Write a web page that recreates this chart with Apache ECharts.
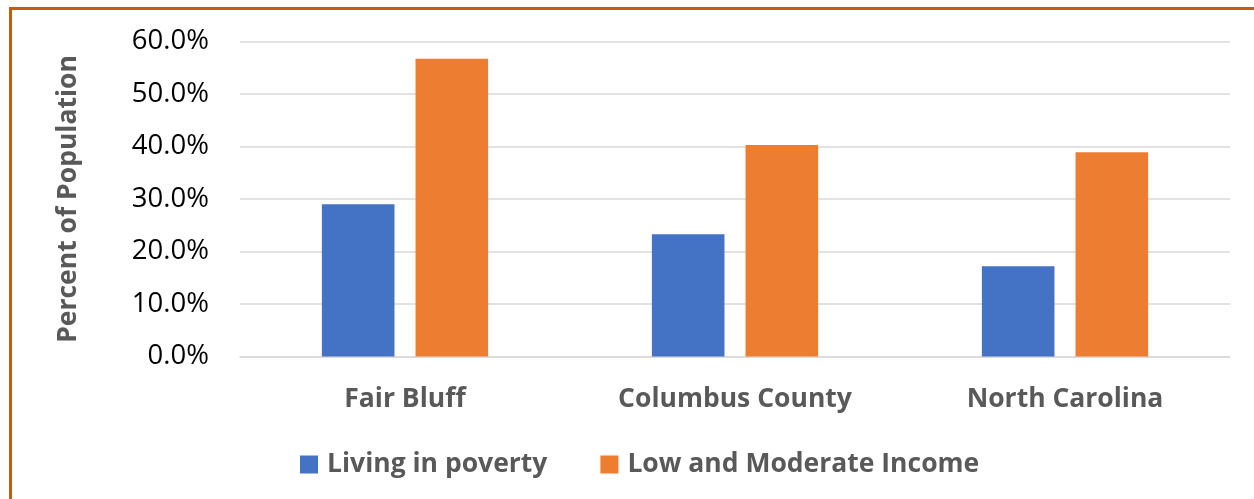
<!DOCTYPE html>
<html><head><meta charset="utf-8">
<script src="https://cdn.jsdelivr.net/npm/echarts@6/dist/echarts.min.js"></script>
<style>
html,body{margin:0;padding:0;background:#fff;width:1254px;height:499px;overflow:hidden;}
#frame{position:absolute;left:9px;top:7px;width:1260px;height:520px;border-left:3px solid #C55A11;border-top:3px solid #C55A11;box-sizing:border-box;}
#chart{position:absolute;left:0;top:0;width:1254px;height:499px;}
</style></head>
<body>
<div id="frame"></div>
<div id="chart"></div>
<script>
const categories = ['Fair Bluff', 'Columbus County', 'North Carolina'];
const povertyValues = [29.0, 23.3, 17.2];
const lmiValues = [56.7, 40.3, 38.9];
const seriesNames = ['Living in poverty', 'Low and Moderate Income'];
const yAxisTitle = 'Percent of Population';

const font = 'Open Sans';
const chart = echarts.init(document.getElementById('chart'), null, {renderer:'canvas'});
chart.setOption({
  animation:false,
  backgroundColor:'transparent',
  textStyle:{fontFamily:font},
  grid:{left:240, right:24, top:41.5, bottom:142.5, containLabel:false},
  legend:{
    top:446, left:295, itemWidth:18, itemHeight:18, itemGap:53,
    icon:'rect',
    textStyle:{fontFamily:font, fontSize:26.5, fontWeight:'bold', color:'#595959', padding:[0,0,0,4]},
    data:seriesNames
  },
  xAxis:{
    type:'category', data:categories,
    axisLine:{lineStyle:{color:'#D9D9D9', width:1.5}},
    axisTick:{show:false},
    axisLabel:{fontFamily:font, fontSize:26.5, fontWeight:'bold', color:'#595959', margin:29}
  },
  yAxis:{
    type:'value', min:0, max:60, interval:10,
    name:yAxisTitle, nameLocation:'middle', nameGap:158, nameRotate:90,
    nameTextStyle:{fontFamily:font, fontSize:26.5, fontWeight:'bold', color:'#595959'},
    axisLine:{show:false}, axisTick:{show:false},
    axisLabel:{fontFamily:font, fontSize:27.5, color:'#000', margin:31, formatter:v=>v.toFixed(1)+'%'},
    splitLine:{lineStyle:{color:'#D9D9D9', width:1.5}}
  },
  series:[
    {name:seriesNames[0], type:'bar', data:povertyValues, barWidth:'22%', barGap:'29%', itemStyle:{color:'#4472C4'}},
    {name:seriesNames[1], type:'bar', data:lmiValues, barWidth:'22%', itemStyle:{color:'#ED7D31'}}
  ]
});
</script>
</body></html>
